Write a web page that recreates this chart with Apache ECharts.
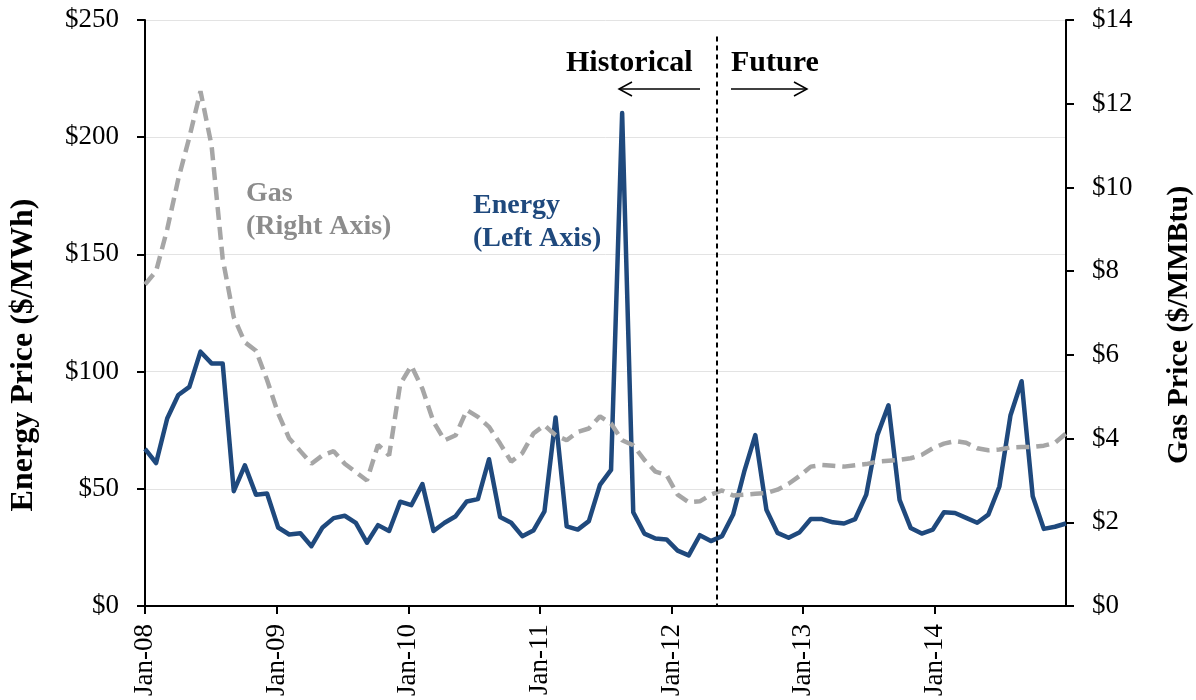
<!DOCTYPE html>
<html>
<head>
<meta charset="utf-8">
<script src="https://cdn.jsdelivr.net/npm/echarts@6/dist/echarts.min.js"></script>
<style>
  html, body { margin: 0; padding: 0; background: #fff; }
  #chart { width: 1196px; height: 700px; }
</style>
</head>
<body>
<div id="chart"></div>
<script>
const FONT = '"Liberation Serif", "Times New Roman", serif';

// x labels, one per January; months are counted from Jan-08 (0 .. 83)
const yearLabels = ['Jan-08', 'Jan-09', 'Jan-10', 'Jan-11', 'Jan-12', 'Jan-13', 'Jan-14'];
// the date axis puts its yearly ticks slightly closer than 12 monthly points
const yearStep = 11.863;

// energy price, $/MWh (left axis), Jan-08 .. Dec-14
const energy = [
  67, 61, 80, 90, 93.5, 108.5, 103.5, 103.5, 49, 60, 47.5, 48,
  33.5, 30.5, 31, 25.5, 33.5, 37.5, 38.5, 35.5, 27, 34.5, 32, 44.5,
  43, 52, 32, 35.5, 38.3, 44.6, 45.6, 62.6, 38, 35.5, 29.8, 32.2,
  40.4, 80.4, 34, 32.6, 36.2, 51.7, 58.1, 210.3, 40, 30.9, 28.8, 28.4,
  23.6, 21.6, 30.2, 27.7, 29.8, 39, 57.3, 72.9, 41.1, 31.2, 29.1, 31.5,
  37.1, 37.1, 35.7, 35.2, 37.1, 47.5, 72.9, 85.6, 45.3, 33.3, 30.9, 32.6,
  40, 39.7, 37.6, 35.5, 39, 51, 81.4, 95.9, 46.8, 32.9, 33.8, 35.2,
];

// gas price, $/MMBtu (right axis), Jan-08 .. Dec-14
const gas = [
  7.68, 8.0, 9.0, 10.2, 11.2, 12.3, 11.0, 8.3, 6.9, 6.3, 6.1, 5.4,
  4.6, 4.0, 3.7, 3.4, 3.6, 3.7, 3.4, 3.2, 3.0, 3.85, 3.6, 5.3,
  5.74, 5.19, 4.4, 3.96, 4.08, 4.68, 4.52, 4.28, 3.88, 3.45, 3.65, 4.12,
  4.32, 4.08, 3.96, 4.16, 4.24, 4.53, 4.36, 3.96, 3.84, 3.49, 3.21, 3.13,
  2.66, 2.48, 2.5, 2.66, 2.76, 2.64, 2.66, 2.68, 2.7, 2.78, 2.92, 3.11,
  3.33, 3.37, 3.35, 3.33, 3.36, 3.39, 3.45, 3.47, 3.49, 3.53, 3.61, 3.77,
  3.88, 3.94, 3.9, 3.77, 3.72, 3.74, 3.79, 3.8, 3.8, 3.83, 3.9, 4.12,
];

// split between historical and future (months from Jan-08) and its top ($/MWh)
const historyEnd = 51.5;
const dividerTop = 243;

const chart = echarts.init(document.getElementById('chart'));

const tickLabel = { fontSize: 27, color: '#000', fontFamily: FONT };
const axisLineStyle = { color: '#000', width: 2 };

function yearLabel(value) {
  const k = Math.round(value / yearStep);
  if (Math.abs(value - k * yearStep) > 0.01) return '';
  return yearLabels[k] || '';
}

chart.setOption({
  animation: false,
  textStyle: { fontFamily: FONT },
  grid: { left: 145, right: 130, top: 20, bottom: 94 },
  xAxis: {
    type: 'value',
    min: 0,
    max: energy.length - 1,
    interval: yearStep,
    axisLine: { lineStyle: axisLineStyle },
    axisTick: { show: true, length: 8, lineStyle: axisLineStyle },
    axisLabel: { ...tickLabel, rotate: 90, margin: 18, formatter: yearLabel, showMaxLabel: false },
    splitLine: { show: false },
  },
  yAxis: [
    {
      type: 'value',
      min: 0,
      max: 250,
      interval: 50,
      axisLine: { show: true, lineStyle: axisLineStyle },
      axisTick: { show: true, length: 8, lineStyle: axisLineStyle },
      axisLabel: { ...tickLabel, margin: 26, formatter: '${value}' },
      splitLine: { lineStyle: { color: '#e3e3e3', width: 1 } },
    },
    {
      type: 'value',
      min: 0,
      max: 14,
      interval: 2,
      axisLine: { show: true, lineStyle: axisLineStyle },
      axisTick: { show: true, length: 8, lineStyle: axisLineStyle },
      axisLabel: { ...tickLabel, margin: 26, formatter: '${value}' },
      splitLine: { show: false },
    },
  ],
  series: [
    {
      name: 'Energy',
      type: 'line',
      yAxisIndex: 0,
      data: energy.map((v, i) => [i, v]),
      symbol: 'none',
      lineStyle: { color: '#1f497d', width: 4.5, join: 'round' },
      markLine: {
        silent: true,
        symbol: 'none',
        label: { show: false },
        lineStyle: { color: '#000', width: 2, type: [5, 4] },
        data: [[{ coord: [historyEnd, dividerTop] }, { coord: [historyEnd, 0] }]],
      },
    },
    {
      name: 'Gas',
      type: 'line',
      yAxisIndex: 1,
      data: gas.map((v, i) => [i, v]),
      symbol: 'none',
      lineStyle: { color: '#a6a6a6', width: 4.5, type: [13, 7] },
    },
  ],
  graphic: [
    // axis titles
    {
      type: 'text', x: 24, y: 355, rotation: Math.PI / 2,
      style: {
        text: 'Energy Price ($/MWh)', font: 'bold 32px ' + FONT, fill: '#000',
        align: 'center', verticalAlign: 'middle',
      },
    },
    {
      type: 'text', x: 1179, y: 325, rotation: Math.PI / 2,
      style: {
        text: 'Gas Price ($/MMBtu)', font: 'bold 30px ' + FONT, fill: '#000',
        align: 'center', verticalAlign: 'middle',
      },
    },
    // historical / future annotations
    {
      type: 'text', left: 566, top: 48,
      style: { text: 'Historical', font: 'bold 30px ' + FONT, fill: '#000' },
    },
    {
      type: 'text', left: 731, top: 48,
      style: { text: 'Future', font: 'bold 30px ' + FONT, fill: '#000' },
    },
    {
      type: 'polyline',
      shape: { points: [[700, 89], [619, 89]] },
      style: { stroke: '#000', lineWidth: 1.5, fill: null },
    },
    {
      type: 'polyline',
      shape: { points: [[632, 82], [619, 89], [632, 96]] },
      style: { stroke: '#000', lineWidth: 1.5, fill: null },
    },
    {
      type: 'polyline',
      shape: { points: [[731, 89], [807, 89]] },
      style: { stroke: '#000', lineWidth: 1.5, fill: null },
    },
    {
      type: 'polyline',
      shape: { points: [[794, 82], [807, 89], [794, 96]] },
      style: { stroke: '#000', lineWidth: 1.5, fill: null },
    },
    // series labels
    {
      type: 'text', left: 246, top: 177,
      style: { text: 'Gas\n(Right Axis)', font: 'bold 28px ' + FONT, fill: '#8c8c8c', lineHeight: 33 },
    },
    {
      type: 'text', left: 473, top: 189,
      style: { text: 'Energy\n(Left Axis)', font: 'bold 28px ' + FONT, fill: '#1f497d', lineHeight: 33 },
    },
  ],
});
</script>
</body>
</html>
